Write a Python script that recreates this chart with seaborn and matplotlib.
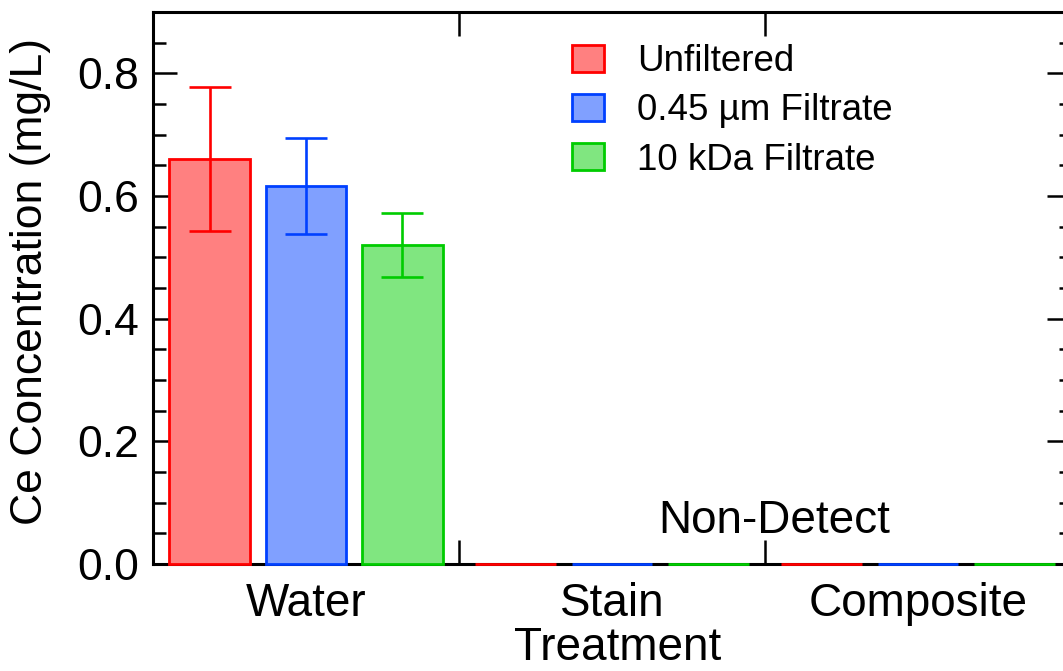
import numpy as np
import pandas as pd
import seaborn as sns
import matplotlib.pyplot as plt
from matplotlib.ticker import MultipleLocator, FixedLocator

sns.set_style("ticks")
plt.rcParams['font.family'] = ['Liberation Sans', 'DejaVu Sans']
plt.rcParams.update({"text.color": "black", "axes.labelcolor": "black",
                     "xtick.color": "black", "ytick.color": "black"})

# data
treatments = ["Water", "Stain", "Composite"]
filters = ["Unfiltered", "0.45 \u00b5m Filtrate", "10 kDa Filtrate"]
water_vals = [0.660, 0.616, 0.520]
stain_vals = [0.0, 0.0, 0.0]
composite_vals = [0.0, 0.0, 0.0]
water_err = [0.117, 0.078, 0.052]
stain_err = [0.0, 0.0, 0.0]
composite_err = [0.0, 0.0, 0.0]

edge_colors = ["#ff0000", "#0040ff", "#00cc00"]
face_colors = ["#ff8080", "#80a0ff", "#80e680"]

rows = []
for t, vals, errs in zip(treatments, [water_vals, stain_vals, composite_vals],
                         [water_err, stain_err, composite_err]):
    for f, v, e in zip(filters, vals, errs):
        rows.append({"Treatment": t, "Filter": f, "Conc": v, "Err": e})
df = pd.DataFrame(rows)

fig = plt.figure(figsize=(10.63, 6.71), dpi=100)
ax = fig.add_axes([153/1063, 1-564/671, 918/1063, 552/671])

sns.barplot(data=df, x="Treatment", y="Conc", hue="Filter", order=treatments,
            hue_order=filters, palette=face_colors, saturation=1, width=0.946,
            gap=0.17, errorbar=None, linewidth=2, legend=False, ax=ax)

bar_conts = list(ax.containers)
for cont, ec, f in zip(bar_conts, edge_colors, filters):
    sub = df[df["Filter"] == f].set_index("Treatment").loc[treatments]
    xs = []
    for p in cont.patches:
        p.set_edgecolor(ec)
        p.set_linewidth(2)
        p.set_zorder(3)
        p.set_clip_on(False)
        xs.append(p.get_x() + p.get_width() / 2)
    xs = np.array(xs)
    mask = sub["Err"].values > 0
    ax.errorbar(xs[mask], sub["Conc"].values[mask], yerr=sub["Err"].values[mask],
                fmt="none", ecolor=ec, elinewidth=1.9, capsize=15, capthick=1.9, zorder=5)

ax.set_xlim(-0.5, 2.5)
ax.set_ylim(0, 0.9)

ax.yaxis.set_major_locator(MultipleLocator(0.2))
ax.yaxis.set_minor_locator(MultipleLocator(0.05))
ax.yaxis.set_major_formatter(plt.FuncFormatter(lambda v, p: f"{v:.1f}"))
ax.tick_params(axis="y", which="major", direction="in", length=17, width=1.8,
               left=True, right=True, labelsize=32, pad=10)
ax.tick_params(axis="y", which="minor", direction="in", length=9, width=1.8,
               left=True, right=True)

ax.xaxis.set_major_locator(FixedLocator([0.5, 1.5]))
ax.xaxis.set_minor_locator(FixedLocator([0, 1, 2]))
ax.set_xticklabels(["", ""])
ax.set_xticklabels(treatments, minor=True)
ax.tick_params(axis="x", which="major", direction="in", length=17, width=1.8,
               top=True, bottom=True)
ax.tick_params(axis="x", which="minor", length=0, labelsize=33, pad=13)

for s in ax.spines.values():
    s.set_linewidth(2.2)
    s.set_color("black")
    s.set_visible(True)

ax.set_ylabel("Ce Concentration (mg/L)", fontsize=32, labelpad=19)
ax.yaxis.label.set_y(0.512)
ax.set_xlabel("Treatment", fontsize=33, labelpad=0)
ax.xaxis.label.set_x(0.506)

ax.text(1.53, 0.05, "Non-Detect", fontsize=33, ha="center", va="baseline")

handles = [c.patches[0] for c in bar_conts]
ax.legend(handles, filters, loc="upper left", bbox_to_anchor=(572/1063, 1-44/671),
          bbox_transform=fig.transFigure, frameon=False, fontsize=26.5,
          handlelength=0.87, handleheight=0.76, handletextpad=0.9,
          labelspacing=0.39, borderpad=0, borderaxespad=0)

fig.savefig("out.png", dpi=100)
